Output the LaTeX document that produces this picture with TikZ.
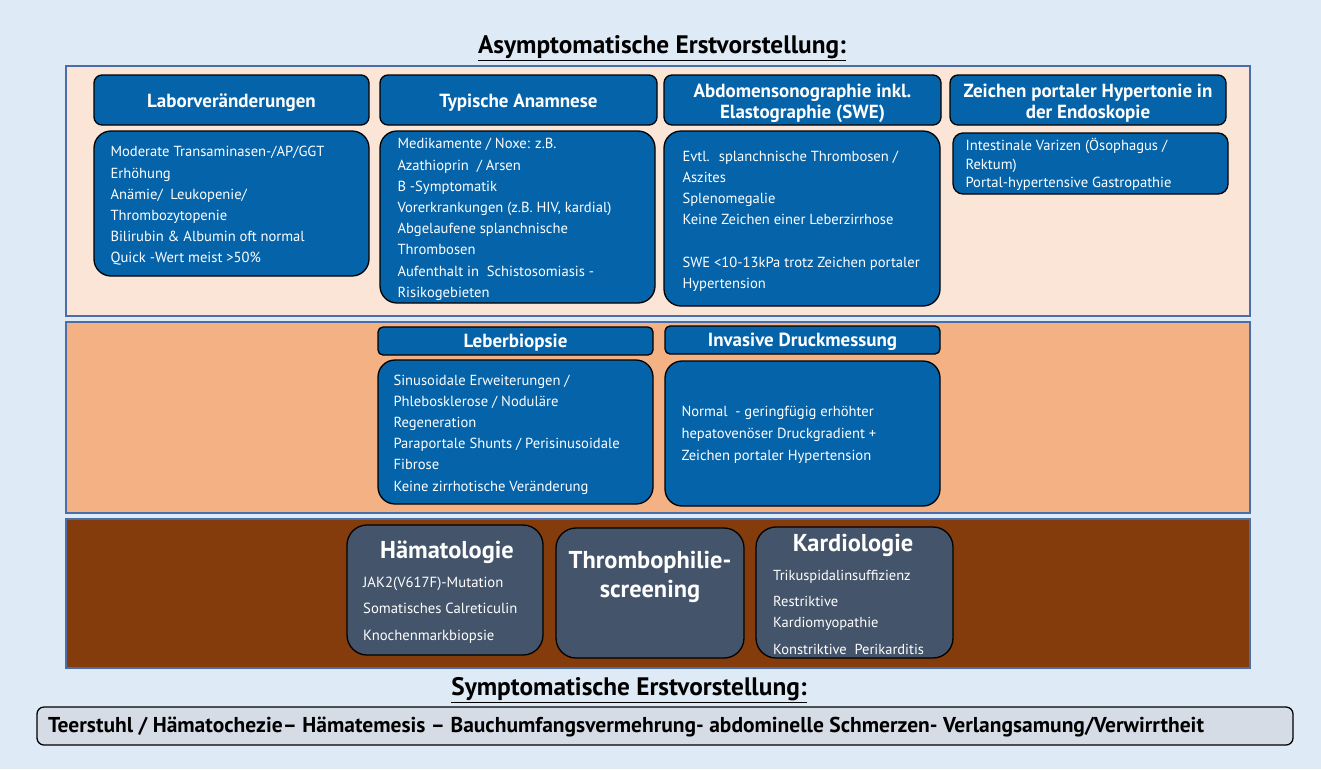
\documentclass[tikz,border=0pt]{standalone}
\usepackage{fontspec}
\setmainfont{PT Sans}
\definecolor{bgblue}{HTML}{DEEBF7}
\definecolor{pone}{HTML}{FBE5D6}
\definecolor{ptwo}{HTML}{F4B183}
\definecolor{pthree}{HTML}{843C0C}
\definecolor{pborder}{HTML}{4A6EA8}
\definecolor{boxblue}{HTML}{0563AA}
\definecolor{boxgrey}{HTML}{44546A}
\definecolor{barfill}{HTML}{D6DCE5}
\tikzset{
  panel/.style={draw=pborder, line width=1.5pt, inner sep=0pt},
  headbox/.style={draw=black, line width=1.3pt, fill=boxblue, rounded corners=8pt, inner sep=0pt},
  headtext/.style={text=white, align=center, inner sep=0pt, font=\bfseries\fontsize{19}{21}\selectfont},
  bodybox/.style={draw=black, line width=1.3pt, fill=boxblue, rounded corners=17pt, inner sep=0pt},
  bodytext/.style={anchor=west, yshift=-2.5pt, text=white, align=left, inner sep=0pt, font=\fontsize{14.6}{21.2}\selectfont},
  greybox/.style={draw=black, line width=1.3pt, fill=boxgrey, rounded corners=20pt, inner sep=0pt},
  greytitle/.style={text=white, inner sep=0pt, align=center, font=\bfseries\fontsize{24.4}{29}\selectfont},
  greyitem/.style={text=white, inner sep=0pt, align=left, font=\fontsize{14.7}{26.5}\selectfont},
  sectitle/.style={inner sep=0pt, font=\bfseries\fontsize{25.3}{28}\selectfont},
}
\begin{document}
\begin{tikzpicture}[x=1pt,y=-1pt]
\path[fill=bgblue, use as bounding box] (0,0) rectangle (1321,769);

% panels
\node[panel, fill=pone, minimum width=1184pt, minimum height=250pt] (p1) at (658,191) {};
\node[panel, fill=ptwo, minimum width=1184pt, minimum height=191pt] (p2) at (658,417.5) {};
\node[panel, fill=pthree, minimum width=1184pt, minimum height=149pt] (p3) at (658,593.5) {};

% titles
\node[sectitle] (t1) at (662,48) {\underline{Asymptomatische Erstvorstellung:}};
\node[sectitle] (t2) at (629,690) {\underline{Symptomatische Erstvorstellung:}};

% top row headers
\node[headbox, minimum width=275pt, minimum height=50pt] (h1) at (231.5,100) {};
\node[headtext] (h1t) at (231.5,102.5) {Laborveränderungen};
\node[headbox, minimum width=277pt, minimum height=50pt] (h2) at (518.5,100) {};
\node[headtext] (h2t) at (518.5,102.5) {Typische Anamnese};
\node[headbox, minimum width=277pt, minimum height=50pt] (h3) at (802.5,100) {};
\node[headtext] (h3t) at (802.5,103.5) {Abdomensonographie inkl.\\Elastographie (SWE)};
\node[headbox, minimum width=276pt, minimum height=50pt] (h4) at (1088,100) {};
\node[headtext] (h4t) at (1088,103.5) {Zeichen portaler Hypertonie in\\der Endoskopie};

% top row bodies
\node[bodybox, minimum width=275pt, minimum height=145pt] (b1) at (231.5,203.5) {};
\node[bodytext, xshift=17pt] (b1t) at (b1.west)
 {Moderate Transaminasen-/AP/GGT\\Erhöhung\\Anämie/ \ Leukopenie/\\Thrombozytopenie\\Bilirubin \& Albumin oft normal\\Quick -Wert meist >50\%};
\node[bodybox, minimum width=275pt, minimum height=172pt] (b2) at (517.5,217) {};
\node[bodytext, xshift=18pt] (b2t) at (b2.west)
 {Medikamente / Noxe: z.B.\\Azathioprin \ / Arsen\\B -Symptomatik\\Vorerkrankungen (z.B. HIV, kardial)\\Abgelaufene splanchnische\\Thrombosen\\Aufenthalt in \ Schistosomiasis -\\Risikogebieten};
\node[bodybox, minimum width=276pt, minimum height=175pt] (b3) at (802,218.5) {};
\node[bodytext, xshift=19pt] (b3t) at (b3.west)
 {Evtl. \ splanchnische Thrombosen /\\Aszites\\Splenomegalie\\Keine Zeichen einer Leberzirrhose\\\mbox{}\\SWE <10-13kPa trotz Zeichen portaler\\Hypertension};
\node[bodybox, rounded corners=10pt, minimum width=275pt, minimum height=61pt] (b4) at (1090.5,163.5) {};
\node[bodytext, xshift=13pt, yshift=1.5pt, font=\fontsize{14.6}{18.5}\selectfont] (b4t) at (b4.west)
 {Intestinale Varizen (Ösophagus /\\Rektum)\\Portal-hypertensive Gastropathie};

% middle row
\node[headbox, rounded corners=5pt, minimum width=275pt, minimum height=28pt] (h5) at (515.5,341) {};
\node[headtext] (h5t) at (515.5,342.5) {Leberbiopsie};
\node[headbox, rounded corners=5pt, minimum width=275pt, minimum height=28pt] (h6) at (802.5,340) {};
\node[headtext] (h6t) at (802.5,341.5) {Invasive Druckmessung};
\node[bodybox, minimum width=275pt, minimum height=144pt] (b5) at (515.5,432) {};
\node[bodytext, xshift=16pt] (b5t) at (b5.west)
 {Sinusoidale Erweiterungen /\\Phlebosklerose / Noduläre\\Regeneration\\Paraportale Shunts / Perisinusoidale\\Fibrose\\Keine zirrhotische Veränderung};
\node[bodybox, minimum width=275pt, minimum height=145pt] (b6) at (802.5,433.5) {};
\node[bodytext, xshift=17pt, yshift=1.5pt, font=\fontsize{14.6}{22}\selectfont] (b6t) at (b6.west)
 {Normal \ - geringfügig erhöhter\\hepatovenöser Druckgradient +\\Zeichen portaler Hypertension};

% bottom row
\node[greybox, minimum width=196pt, minimum height=130pt] (g1) at (445,590) {};
\node[greybox, minimum width=188pt, minimum height=130pt] (g2) at (650,593) {};
\node[greybox, minimum width=197pt, minimum height=131pt] (g3) at (854.5,592.5) {};
\node[greytitle] (g1t) at (447,552.5) {Hämatologie};
\node[greyitem, anchor=west] (g1i) at (363,610) {JAK2(V617F)-Mutation\\Somatisches Calreticulin\\Knochenmarkbiopsie};
\node[greytitle] (g2t) at (650,576.5) {Thrombophilie-\\screening};
\node[greytitle] (g3t) at (853,545) {Kardiologie};
\node[greyitem, anchor=west, font=\fontsize{14.5}{21}\selectfont] (g3i) at (773,612.5)
 {Trikuspidalinsuffizienz\\[5pt]Restriktive\\Kardiomyopathie\\[6pt]Konstriktive \ Perikarditis};

% bottom bar
\node[draw=black, line width=1.3pt, fill=barfill, rounded corners=7pt, minimum width=1256pt, minimum height=38pt, inner sep=0pt] (bar) at (665,726) {};
\node[anchor=west, inner sep=0pt, font=\bfseries\fontsize{21.5}{24}\selectfont] (bart) at (48,727)
 {Teerstuhl / Hämatochezie– Hämatemesis – Bauchumfangsvermehrung- abdominelle Schmerzen- Verlangsamung/Verwirrtheit};
\end{tikzpicture}
\end{document}
